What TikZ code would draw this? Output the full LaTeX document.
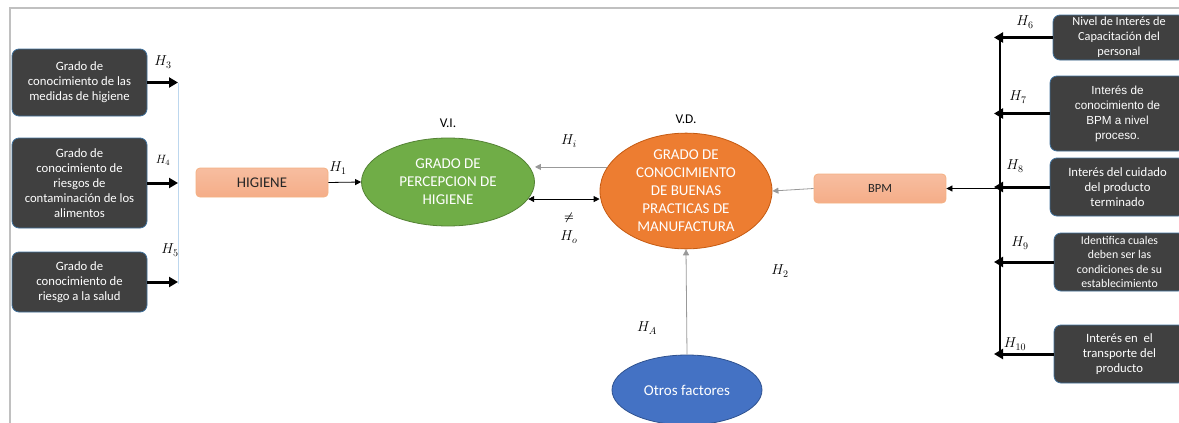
\documentclass[tikz,border=0pt]{standalone}
\usepackage{amsmath}
\usepackage{fontspec}
\setmainfont{Carlito}
\newfontfamily\arialfont{Liberation Sans}
\usetikzlibrary{positioning}
\usetikzlibrary{shapes.geometric}
\usetikzlibrary{arrows.meta}

\definecolor{boxgray}{HTML}{404040}
\definecolor{boxedge}{HTML}{41719C}
\definecolor{salmon}{HTML}{F5AD88}
\definecolor{salmonedge}{HTML}{F4B183}
\definecolor{vigreen}{HTML}{70AD47}
\definecolor{viedge}{HTML}{548235}
\definecolor{vdorange}{HTML}{ED7D31}
\definecolor{vdedge}{HTML}{C55A11}
\definecolor{otblue}{HTML}{4472C4}
\definecolor{otedge}{HTML}{2F528F}
\definecolor{framegray}{HTML}{C0C0C0}
\definecolor{buslight}{HTML}{BDD7EE}
\definecolor{textdark}{HTML}{262626}

\begin{document}
\begin{tikzpicture}[x=1pt, y=-1pt,
    darkbox/.style={rectangle, rounded corners=7pt, fill=boxgray, draw=boxedge, line width=0.8pt,
        text=white, align=center, inner sep=0pt, font=\fontsize{12.7}{15}\selectfont},
    salmonbox/.style={rectangle, rounded corners=4pt, top color=salmon!80, bottom color=salmon, draw=salmonedge, line width=0.8pt,
        text=textdark, align=center, inner sep=0pt, minimum width=132pt, minimum height=29pt},
    oval/.style={ellipse, line width=0.8pt, text=white, align=center, inner sep=0pt,
        font=\fontsize{15}{18}\selectfont},
    hlabel/.style={font=\fontsize{14.5}{16}\selectfont, inner sep=0pt},
    thick arrow/.style={line width=3pt, -{Triangle[length=9pt,width=10pt]}},
    thin arrow/.style={line width=0.8pt, -{Triangle[length=6pt,width=6pt]}},
    gray arrow/.style={line width=0.8pt, draw=gray!80, -{Triangle[length=6pt,width=6pt]}}]

    \useasboundingbox (0,0) rectangle (1179,423);

    % frame
    \draw[framegray, line width=2pt] (10,423) -- (10,8) -- (1179,8);

    % left boxes
    \node[darkbox, minimum width=135pt, minimum height=67pt] (conmedidas) at (79.5,82.5)
        {Grado de\\conocimiento de las\\medidas de higiene};
    \node[darkbox, minimum width=135pt, minimum height=90pt] (conriesgos) at (79.5,183)
        {Grado de\\conocimiento de\\riesgos de\\contaminación de los\\alimentos};
    \node[darkbox, minimum width=135pt, minimum height=60pt] (consalud) at (79.5,282)
        {Grado de\\conocimiento de\\riesgo a la salud};

    \coordinate (lbustop) at (178,82.5);
    \coordinate (lbusbot) at (178,284);
    \draw[buslight, line width=0.8pt] (lbustop) -- (lbusbot);
    \draw[thick arrow] (conmedidas.east) -- (conmedidas.east -| lbustop);
    \draw[thick arrow] (conriesgos.east) -- (conriesgos.east -| lbustop);
    \draw[thick arrow] (consalud.east) -- (consalud.east -| lbustop);

    \node[hlabel] (h3) at (163,62) {$H_3$};
    \node[hlabel, font=\fontsize{12}{14}\selectfont] (h4) at (163,160) {$H_4$};
    \node[hlabel] (h5) at (170,250) {$H_5$};

    % centre
    \node[salmonbox, font=\fontsize{14.8}{16}\selectfont] (higiene) at (262,182.5) {HIGIENE};
    \node[oval, fill=vigreen, draw=viedge, minimum width=173pt, minimum height=88pt] (percepcion) at (448,182)
        {GRADO DE\\PERCEPCION DE\\HIGIENE};
    \node[oval, fill=vdorange, draw=vdedge, minimum width=172pt, minimum height=106pt] (buenas) at (686,191)
        {GRADO DE\\CONOCIMIENTO\\DE BUENAS\\PRACTICAS DE\\MANUFACTURA};
    \node[oval, fill=otblue, draw=otedge, minimum width=150pt, minimum height=70pt] (otros) at (687,390)
        {Otros factores};
    \node[salmonbox, font=\fontsize{12.5}{14}\selectfont] (bpm) at (880,188.5) {BPM};

    \node[font=\fontsize{13.4}{15}\selectfont, above=6pt of percepcion] (vi) {V.I.};
    \node[font=\fontsize{13.4}{15}\selectfont, above=6pt of buenas] (vd) {V.D.};

    \draw[thin arrow] (higiene.east) -- (percepcion.west);
    \draw[gray arrow] (buenas.163) -- (buenas.163 -| percepcion.east);
    \draw[thin arrow, {Triangle[length=6pt,width=6pt]}-{Triangle[length=6pt,width=6pt]}]
        (percepcion.-12) -- (percepcion.-12 -| buenas.west);
    \draw[gray arrow] (otros.north) -- (buenas.south);
    \draw[gray arrow] (bpm.west) -- (buenas.east);

    \node[hlabel] (h1) at (338,168) {$H_1$};
    \node[hlabel] (hi) at (569,141) {$H_i$};
    \node[hlabel, font=\fontsize{11}{12}\selectfont] (neq) at (569,218) {$\boldsymbol{\neq}$};
    \node[hlabel] (ho) at (569,237) {$H_o$};
    \node[hlabel] (ha) at (647,328) {$H_A$};
    \node[hlabel] (h2) at (780,271) {$H_2$};

    % right boxes
    \coordinate (rbustop) at (1000,36);
    \coordinate (rbusbot) at (1000,356);
    \coordinate (rtip) at (994,36);
    \draw[line width=1.6pt] (rbustop) -- (rbusbot);
    \draw[thin arrow] (bpm.east -| rbustop) -- (bpm.east);

    \node[darkbox, minimum width=132pt, minimum height=45pt, font=\fontsize{12.3}{15}\selectfont] (capacitacion) at (1119,37.5)
        {Nivel de Interés de\\Capacitación del\\personal};
    \node[darkbox, minimum width=135pt, minimum height=75pt, font=\arialfont\fontsize{11.7}{15}\selectfont] (proceso) at (1117.5,113.5)
        {Interés de\\conocimiento de\\BPM a nivel\\proceso.};
    \node[darkbox, minimum width=135pt, minimum height=58pt] (cuidado) at (1117.5,187)
        {Interés del cuidado\\del producto\\terminado};
    \node[darkbox, minimum width=131pt, minimum height=58pt, font=\fontsize{11.8}{14.6}\selectfont] (condiciones) at (1119.5,262)
        {Identifica cuales\\deben ser las\\condiciones de su\\establecimiento};
    \node[darkbox, minimum width=131pt, minimum height=58pt] (transporte) at (1119.5,354)
        {Interés en\ \ el\\transporte del\\producto};

    \draw[thick arrow] (capacitacion.west) -- (capacitacion.west -| rtip);
    \draw[thick arrow] (proceso.west) -- (proceso.west -| rtip);
    \draw[thick arrow] (cuidado.west) -- (cuidado.west -| rtip);
    \draw[thick arrow] (condiciones.west) -- (condiciones.west -| rtip);
    \draw[thick arrow] (transporte.west) -- (transporte.west -| rtip);

    \node[hlabel] (h6) at (1025,22) {$H_6$};
    \node[hlabel] (h7) at (1018,97) {$H_7$};
    \node[hlabel] (h8) at (1015,166) {$H_8$};
    \node[hlabel] (h9) at (1020,243) {$H_9$};
    \node[hlabel] (h10) at (1015,344) {$H_{10}$};
\end{tikzpicture}
\end{document}
